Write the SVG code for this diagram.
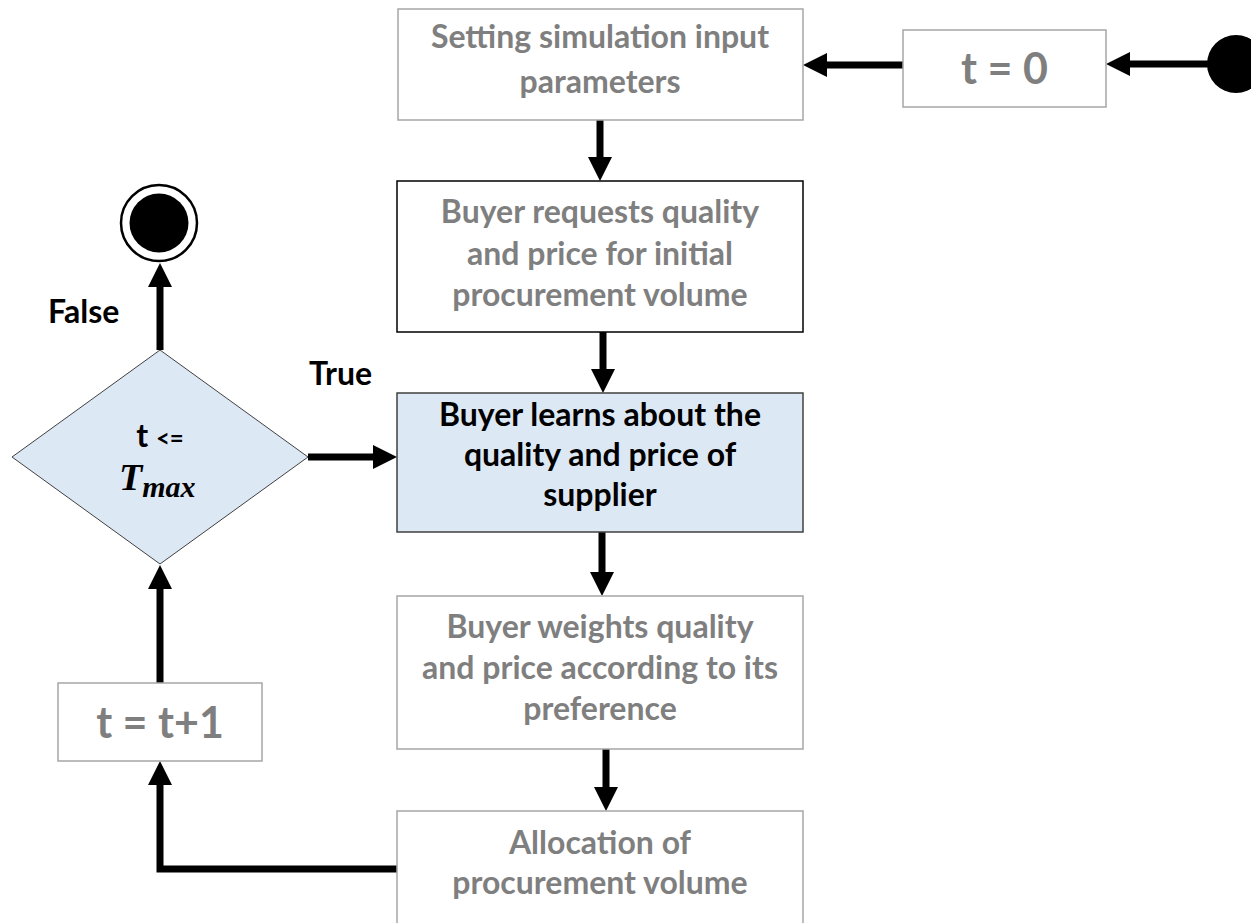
<svg xmlns="http://www.w3.org/2000/svg" width="1251" height="923" viewBox="0 0 1251 923">
  <style>
    .box { fill: #ffffff; stroke: #a6a6a6; stroke-width: 1.5; }
    .box-dark { fill: #ffffff; stroke: #000000; stroke-width: 1.5; }
    .box-blue { fill: #dde8f5; stroke: #404040; stroke-width: 1.5; }
    .lbl { font-family: Lato, "Open Sans", "Liberation Sans", sans-serif; font-weight: bold; font-size: 32px; text-anchor: middle; fill: #7f7f7f; }
    .lbl-dark { fill: #000000; }
    .big { font-size: 43px; }
    .edge-label { font-family: Lato, "Open Sans", "Liberation Sans", sans-serif; font-weight: bold; font-size: 32px; fill: #000000; }
    .math { font-family: "Liberation Serif", "DejaVu Serif", serif; font-style: italic; font-weight: bold; fill: #000000; }
    .conn { fill: none; stroke: #000000; stroke-width: 7; stroke-linejoin: miter; }
  </style>
  <defs>
    <marker id="arrow" markerUnits="userSpaceOnUse" viewBox="0 -13 26 26" refX="0" refY="0" markerWidth="26" markerHeight="26" orient="auto" overflow="visible">
      <path d="M0,-12 L24,0 L0,12 z" fill="#000000"/>
    </marker>
  </defs>

  <!-- connectors -->
  <g id="connectors">
    <line class="conn" x1="1208" y1="64" x2="1130" y2="64" marker-end="url(#arrow)"/>
    <line class="conn" x1="903" y1="65" x2="827" y2="65" marker-end="url(#arrow)"/>
    <line class="conn" x1="600" y1="120" x2="600" y2="157" marker-end="url(#arrow)"/>
    <line class="conn" x1="603" y1="332" x2="603" y2="369" marker-end="url(#arrow)"/>
    <line class="conn" x1="602" y1="532" x2="602" y2="572" marker-end="url(#arrow)"/>
    <line class="conn" x1="606" y1="749" x2="606" y2="787" marker-end="url(#arrow)"/>
    <polyline class="conn" points="397,869 160,869 160,785" marker-end="url(#arrow)"/>
    <line class="conn" x1="160" y1="683" x2="160" y2="589" marker-end="url(#arrow)"/>
    <line class="conn" x1="160" y1="350" x2="160" y2="287" marker-end="url(#arrow)"/>
    <line class="conn" x1="308" y1="457" x2="373" y2="457" marker-end="url(#arrow)"/>
  </g>

  <!-- start node -->
  <g id="start">
    <circle cx="1236" cy="64" r="29" fill="#000000"/>
  </g>

  <!-- end node -->
  <g id="end">
    <circle cx="159" cy="223" r="38" fill="#ffffff" stroke="#000000" stroke-width="2.5"/>
    <circle cx="159" cy="223" r="29.5" fill="#000000"/>
  </g>

  <g id="init-t">
    <rect class="box" x="903" y="30" width="203" height="77"/>
    <text class="lbl big" x="1004.5" y="84">t = 0</text>
  </g>

  <g id="set-params">
    <rect class="box" x="398" y="9" width="405" height="111"/>
    <text class="lbl" x="600" y="48">Setting simulation input</text>
    <text class="lbl" x="600" y="93">parameters</text>
  </g>

  <g id="request">
    <rect class="box-dark" x="397" y="181" width="406" height="151"/>
    <text class="lbl" x="600" y="223">Buyer requests quality</text>
    <text class="lbl" x="600" y="265">and price for initial</text>
    <text class="lbl" x="600" y="306">procurement volume</text>
  </g>

  <g id="learn">
    <rect class="box-blue" x="397" y="393" width="406" height="139"/>
    <text class="lbl lbl-dark" x="600" y="426">Buyer learns about the</text>
    <text class="lbl lbl-dark" x="600" y="466">quality and price of</text>
    <text class="lbl lbl-dark" x="600" y="506">supplier</text>
  </g>

  <g id="weights">
    <rect class="box" x="397" y="596" width="406" height="153"/>
    <text class="lbl" x="600" y="638">Buyer weights quality</text>
    <text class="lbl" x="600" y="679">and price according to its</text>
    <text class="lbl" x="600" y="720">preference</text>
  </g>

  <g id="allocation">
    <rect class="box" x="397" y="811" width="406" height="130"/>
    <text class="lbl" x="600" y="854">Allocation of</text>
    <text class="lbl" x="600" y="894">procurement volume</text>
  </g>

  <g id="increment">
    <rect class="box" x="58" y="683" width="204" height="78"/>
    <text class="lbl big" x="160" y="738">t = t+1</text>
  </g>

  <g id="decision">
    <polygon points="160,350 308,457 160,564 12,457" fill="#dde8f5" stroke="#404040" stroke-width="1"/>
    <text class="lbl lbl-dark" x="160" y="447" font-size="30">t <tspan font-size="24">&lt;=</tspan></text>
    <text class="math" x="119" y="490" font-size="38">T<tspan font-size="30" dy="7">max</tspan></text>
  </g>

  <g id="labels">
    <text class="edge-label" x="48" y="323">False</text>
    <text class="edge-label" x="309" y="385">True</text>
  </g>
</svg>
